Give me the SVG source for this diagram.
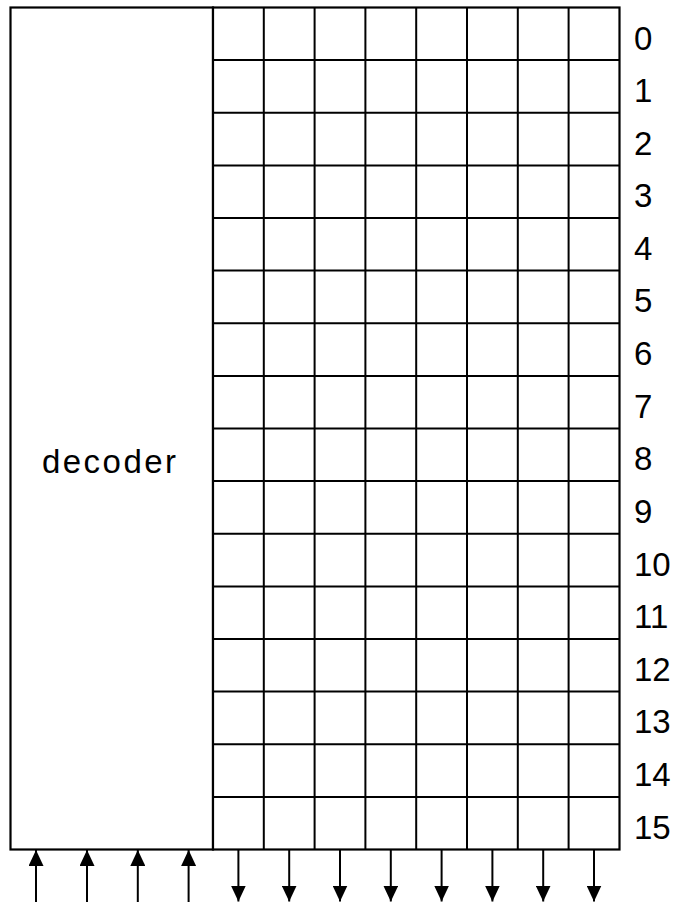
<svg xmlns="http://www.w3.org/2000/svg" width="676" height="902" viewBox="0 0 676 902">
<style>
.ln{stroke:#000;stroke-width:2;fill:none}
.bx{stroke:#000;stroke-width:2.2;fill:#fff}
.t{font-family:"Liberation Sans",Arial,sans-serif;font-size:33px;fill:#000}
.ar{stroke:#000;stroke-width:2;fill:none}
</style>
<defs>
<marker id="ah" viewBox="0 0 16 15" refX="16" refY="7.5" markerWidth="16" markerHeight="15" markerUnits="userSpaceOnUse" orient="auto">
<path d="M0,0 L16,7.5 L0,15 Z" fill="#000"/>
</marker>
</defs>
<rect width="676" height="902" fill="#fff"/>
<g id="decoder">
<rect class="bx" x="10.5" y="7.5" width="202.5" height="842"/>
<text class="t" x="109" y="472.5" text-anchor="middle" textLength="134" lengthAdjust="spacing">decoder</text>
</g>
<g id="memory-grid">
<rect class="bx" x="213" y="7.5" width="406.5" height="842"/>
<path class="ln" d="M263.8,7.5V849.5M314.6,7.5V849.5M365.4,7.5V849.5M416.2,7.5V849.5M467,7.5V849.5M517.8,7.5V849.5M568.6,7.5V849.5"/>
<path class="ln" d="M213,60.1H619.5M213,112.8H619.5M213,165.4H619.5M213,218H619.5M213,270.6H619.5M213,323.3H619.5M213,375.9H619.5M213,428.5H619.5M213,481.1H619.5M213,533.8H619.5M213,586.4H619.5M213,639H619.5M213,691.6H619.5M213,744.3H619.5M213,796.9H619.5"/>
</g>
<g id="row-labels" class="t">
<text x="634" y="50">0</text>
<text x="634" y="101.5">1</text>
<text x="634" y="154.5">2</text>
<text x="634" y="207">3</text>
<text x="634" y="259.5">4</text>
<text x="634" y="312">5</text>
<text x="634" y="365">6</text>
<text x="634" y="417.5">7</text>
<text x="634" y="470">8</text>
<text x="634" y="522.5">9</text>
<text x="634" y="576">10</text>
<text x="634" y="628">11</text>
<text x="634" y="680.5">12</text>
<text x="634" y="733">13</text>
<text x="634" y="786">14</text>
<text x="634" y="838.5">15</text>
</g>
<g id="connectors">
<line class="ar" x1="36" y1="902" x2="36" y2="850" marker-end="url(#ah)"/>
<line class="ar" x1="87" y1="902" x2="87" y2="850" marker-end="url(#ah)"/>
<line class="ar" x1="137.8" y1="902" x2="137.8" y2="850" marker-end="url(#ah)"/>
<line class="ar" x1="188.6" y1="902" x2="188.6" y2="850" marker-end="url(#ah)"/>
<line class="ar" x1="238.4" y1="850" x2="238.4" y2="901.5" marker-end="url(#ah)"/>
<line class="ar" x1="289.2" y1="850" x2="289.2" y2="901.5" marker-end="url(#ah)"/>
<line class="ar" x1="340" y1="850" x2="340" y2="901.5" marker-end="url(#ah)"/>
<line class="ar" x1="390.8" y1="850" x2="390.8" y2="901.5" marker-end="url(#ah)"/>
<line class="ar" x1="441.6" y1="850" x2="441.6" y2="901.5" marker-end="url(#ah)"/>
<line class="ar" x1="492.4" y1="850" x2="492.4" y2="901.5" marker-end="url(#ah)"/>
<line class="ar" x1="543.2" y1="850" x2="543.2" y2="901.5" marker-end="url(#ah)"/>
<line class="ar" x1="594" y1="850" x2="594" y2="901.5" marker-end="url(#ah)"/>
</g>
</svg>
